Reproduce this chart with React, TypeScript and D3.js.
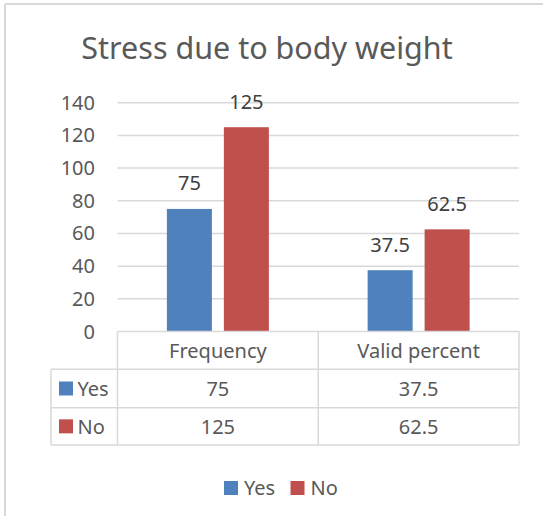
import React from "react";
import * as d3 from "d3";

const categories = ["Frequency", "Valid percent"];
const seriesNames = ["Yes", "No"];
const yesValues = [75, 37.5];
const noValues = [125, 62.5];
const yTicks = [0, 20, 40, 60, 80, 100, 120, 140];
const colors = ["#4f81bd", "#c0504d"];
const title = "Stress due to body weight";

const W = 543;
const H = 516;
const FONT = "'Noto Sans', 'Open Sans', sans-serif";
const GRID = "#d9d9d9";
const TXT = "#595959";

export default function App() {
  const values = [yesValues, noValues];
  const plotLeft = 117.5;
  const plotRight = 519;
  const y = d3.scaleLinear().domain([0, 140]).range([331.5, 102.7]);
  const x0 = d3.scaleBand<string>().domain(categories).range([plotLeft, plotRight]).paddingInner(0).paddingOuter(0);
  const groupW = 102;
  const x1 = d3.scaleBand<string>().domain(seriesNames).range([0, groupW]).paddingInner(0.21).paddingOuter(0);
  const groupOffset = (x0.bandwidth() - groupW) / 2;

  const tableLeft = 51;
  const headerTop = y(0);
  const rowLines = [headerTop, 369.3, 407.7, 445];

  return (
    <svg width={W} height={H} style={{ position: "absolute", left: 0, top: 0, background: "#fff" }} fontFamily={FONT}>
      {/* chart border */}
      <line x1={5} y1={4} x2={W} y2={4} stroke={GRID} strokeWidth={2} />
      <line x1={5} y1={4} x2={5} y2={H} stroke={GRID} strokeWidth={2} />

      <text x={267} y={59} textAnchor="middle" fontSize={30.5} fill={TXT}>{title}</text>

      {/* gridlines */}
      {yTicks.filter((t) => t > 0).map((t) => (
        <line key={t} x1={plotLeft} x2={plotRight} y1={y(t)} y2={y(t)} stroke={GRID} strokeWidth={1.5} />
      ))}
      {yTicks.map((t) => (
        <text key={"l" + t} x={95} y={y(t)} dy="0.35em" textAnchor="end" fontSize={20} fill={TXT}>{t}</text>
      ))}

      {/* bars */}
      {categories.map((c, ci) => (
        <g key={c}>
          {seriesNames.map((s, si) => {
            const v = values[si][ci];
            const bx = (x0(c) as number) + groupOffset + (x1(s) as number);
            const bw = x1.bandwidth();
            return (
              <g key={s}>
                <rect x={bx} y={y(v)} width={bw} height={y(0) - y(v)} fill={colors[si]} />
                <text x={bx + bw / 2} y={y(v) - 18.5} textAnchor="middle" fontSize={20} fill="#404040">{v}</text>
              </g>
            );
          })}
        </g>
      ))}

      {/* data table */}
      <g stroke={GRID} strokeWidth={1.5} fill="none">
        <line x1={plotLeft} x2={plotRight} y1={rowLines[0]} y2={rowLines[0]} />
        {rowLines.slice(1).map((ry, i) => (
          <line key={i} x1={tableLeft} x2={plotRight} y1={ry} y2={ry} />
        ))}
        <line x1={tableLeft} x2={tableLeft} y1={rowLines[1]} y2={rowLines[3]} />
        <line x1={plotLeft} x2={plotLeft} y1={rowLines[0]} y2={rowLines[3]} />
        {categories.map((c) => (
          <line key={c} x1={(x0(c) as number) + x0.bandwidth()} x2={(x0(c) as number) + x0.bandwidth()} y1={rowLines[0]} y2={rowLines[3]} />
        ))}
      </g>
      {categories.map((c) => (
        <text key={c} x={(x0(c) as number) + x0.bandwidth() / 2} y={(rowLines[0] + rowLines[1]) / 2} dy="0.36em" textAnchor="middle" fontSize={20} fill={TXT}>{c}</text>
      ))}
      {seriesNames.map((s, si) => {
        const cy = (rowLines[si + 1] + rowLines[si + 2]) / 2;
        return (
          <g key={s}>
            <rect x={59} y={cy - 7} width={14} height={14} fill={colors[si]} />
            <text x={77.5} y={cy} dy="0.36em" fontSize={20} fill={TXT}>{s}</text>
            {categories.map((c, ci) => (
              <text key={c} x={(x0(c) as number) + x0.bandwidth() / 2} y={cy} dy="0.36em" textAnchor="middle" fontSize={20} fill={TXT}>{values[si][ci]}</text>
            ))}
          </g>
        );
      })}

      {/* legend */}
      {seriesNames.map((s, si) => {
        const lx = si === 0 ? 224 : 290.5;
        return (
          <g key={"lg" + s}>
            <rect x={lx} y={481} width={14} height={14} fill={colors[si]} />
            <text x={lx + 20} y={488} dy="0.36em" fontSize={20} fill={TXT}>{s}</text>
          </g>
        );
      })}
    </svg>
  );
}
